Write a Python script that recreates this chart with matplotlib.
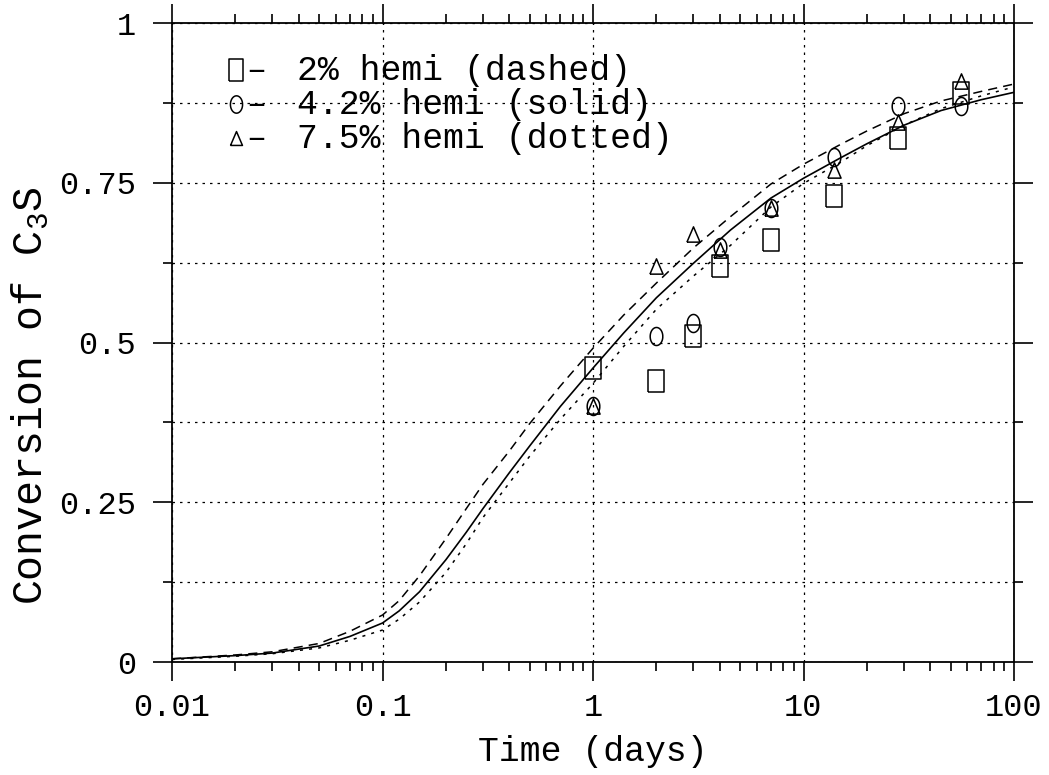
import numpy as np
import matplotlib
matplotlib.use("Agg")
import matplotlib.pyplot as plt
from matplotlib.ticker import FixedLocator, NullFormatter, LogLocator

plt.rcParams["font.family"] = ["Liberation Mono", "DejaVu Sans Mono"]
plt.rcParams["mathtext.default"] = "regular"

# measured points (days, conversion)
t_days = [1, 2, 3, 4, 7, 14, 28, 56]
conv_2pct = [0.46, 0.44, 0.51, 0.62, 0.66, 0.73, 0.82, 0.89]
conv_42pct = [0.40, 0.51, 0.53, 0.65, 0.71, 0.79, 0.87, 0.87]
conv_75pct = [0.40, 0.62, 0.67, 0.645, 0.71, 0.77, 0.845, 0.91]

# model curves
t_curve = [0.01, 0.02, 0.03, 0.05, 0.07, 0.1, 0.12, 0.15, 0.2, 0.25, 0.3,
           0.4, 0.5, 0.7, 1, 1.4, 2, 3, 4.5, 7, 10, 15, 20, 30, 45, 70, 100]
fit_2pct = [0.005, 0.011, 0.016, 0.029, 0.048, 0.0735, 0.096, 0.135, 0.193,
            0.240, 0.278, 0.330, 0.373, 0.432, 0.491, 0.543, 0.593, 0.648,
            0.697, 0.748, 0.779, 0.810, 0.831, 0.858, 0.878, 0.893, 0.9045]
fit_42pct = [0.005, 0.010, 0.014, 0.025, 0.040, 0.061, 0.080, 0.110, 0.160,
             0.203, 0.240, 0.296, 0.338, 0.400, 0.460, 0.515, 0.570, 0.624,
             0.676, 0.726, 0.757, 0.789, 0.811, 0.840, 0.863, 0.880, 0.8915]
fit_75pct = [0.004, 0.009, 0.013, 0.022, 0.034, 0.050, 0.067, 0.094, 0.140,
             0.185, 0.226, 0.280, 0.322, 0.380, 0.436, 0.494, 0.552, 0.604,
             0.652, 0.712, 0.749, 0.782, 0.808, 0.840, 0.866, 0.886, 0.900]

legend_labels = ["2% hemi (dashed)", "4.2% hemi (solid)", "7.5% hemi (dotted)"]

# marker shapes: tall rectangle, tall ellipse, triangle
rect = [(-0.33, -0.5), (0.33, -0.5), (0.33, 0.5), (-0.33, 0.5), (-0.33, -0.5)]
ang = np.linspace(0, 2 * np.pi, 41)
ellipse = list(zip(0.35 * np.cos(ang), 0.5 * np.sin(ang)))
tri = [(-0.43, -0.5), (0.43, -0.5), (0.0, 0.5), (-0.43, -0.5)]

W, H = 1049, 775
L, R, T, B = 172, 1014, 23, 662

fig = plt.figure(figsize=(W / 100, H / 100), dpi=100)
ax = fig.add_axes([L / W, 1 - B / H, (R - L) / W, (B - T) / H])

ax.plot(t_curve, fit_2pct, color="black", lw=1.1, ls=(0, (6, 4)))
ax.plot(t_curve, fit_42pct, color="black", lw=1.2, ls="-")
ax.plot(t_curve, fit_75pct, color="black", lw=1.1, ls=(0, (2, 4)))

mk = dict(ls="none", mfc="none", mec="black", mew=1.1)
ax.plot(t_days, conv_2pct, marker=rect, ms=16.5, **mk)
ax.plot(t_days, conv_42pct, marker=ellipse, ms=13, **mk)
ax.plot(t_days, conv_75pct, marker=tri, ms=11, **mk)

ax.set_xscale("log")
ax.set_xlim(0.01, 100)
ax.set_ylim(0, 1)

ax.xaxis.set_major_locator(FixedLocator([0.01, 0.1, 1, 10, 100]))
ax.xaxis.set_minor_locator(LogLocator(base=10, subs=np.arange(2, 10)))
ax.xaxis.set_minor_formatter(NullFormatter())
ax.set_xticklabels(["0.01", "0.1", "1", "10", "100"])
ax.yaxis.set_major_locator(FixedLocator([0, 0.25, 0.5, 0.75, 1]))
ax.yaxis.set_minor_locator(FixedLocator([0.125, 0.375, 0.625, 0.875]))
ax.set_yticklabels(["0", "0.25", "0.5", "0.75", "1"])

ax.tick_params(which="both", direction="out", top=True, right=True,
               width=1.2, colors="black")
ax.tick_params(which="major", length=14, pad=8, labelsize=23)
ax.tick_params(which="minor", length=6.5)
ax.tick_params(axis="y", which="major", pad=12)

for s in ax.spines.values():
    s.set_linewidth(1.3)

grid_style = dict(color="black", lw=0.9, ls=(0, (2, 4)))
ax.grid(True, axis="x", which="major", **grid_style)
ax.grid(True, axis="y", which="both", **grid_style)
ax.set_axisbelow(True)

ax.set_xlabel("Time (days)", fontsize=25, labelpad=9)
fig.text(30 / W, 1 - 396 / H, "Conversion of C$_3$S", fontsize=30,
         rotation=90, ha="center", va="center")

# hand-made key: marker, dash, label
def to_ax(px, py):
    return (px - L) / (R - L), (B - py) / (B - T)

key_markers = [(rect, 16), (ellipse, 12.5), (tri, 10)]
for i, (label, (m, size)) in enumerate(zip(legend_labels, key_markers)):
    py = 70 + 34 * i
    ax.plot(*to_ax(236, py), marker=m, ms=size, transform=ax.transAxes, **mk)
    ax.text(*to_ax(256, py), "\u2013", transform=ax.transAxes,
            fontsize=24, ha="center", va="center")
    ax.text(*to_ax(297, py), label, transform=ax.transAxes,
            fontsize=25, ha="left", va="center")

fig.savefig("out.png", dpi=100)
